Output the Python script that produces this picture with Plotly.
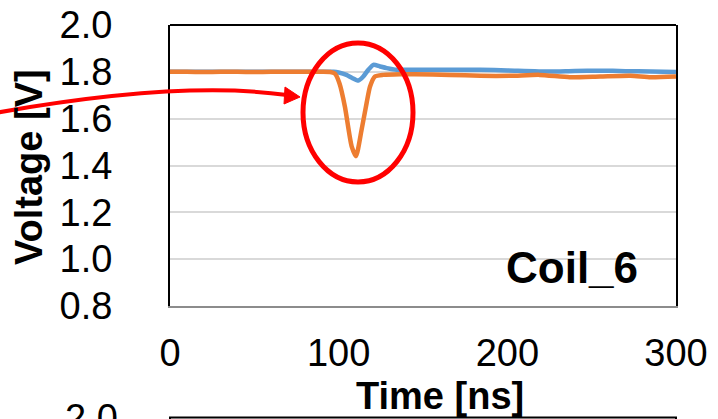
import plotly.graph_objects as go

# ---- data ----
time_blue = [0, 10, 20, 30, 40, 50, 60, 70, 80, 90, 97, 100, 104.6, 108, 111.7, 114.6, 117.5, 120.6,
             124.5, 128.5, 134.4, 148, 166, 184, 200, 225, 240, 255, 270, 285, 300]
volt_blue = [1.800, 1.800, 1.800, 1.800, 1.800, 1.800, 1.800, 1.800, 1.800, 1.800, 1.800, 1.797, 1.787, 1.774,
             1.763, 1.780, 1.808, 1.830, 1.823, 1.816, 1.809, 1.809, 1.809, 1.809, 1.806, 1.801, 1.804, 1.805,
             1.803, 1.801, 1.799]

time_orange = [0, 10, 20, 30, 40, 50, 60, 70, 80, 90, 95, 97.8, 100.5, 103.7, 107.7, 110.3, 113.6, 116.6,
               118.6, 121.5, 126.4, 136.4, 145, 166, 184, 202, 219, 237, 255, 273, 285, 300]
volt_orange = [1.800, 1.800, 1.799, 1.800, 1.800, 1.799, 1.800, 1.800, 1.800, 1.800, 1.799, 1.792, 1.750,
               1.651, 1.482, 1.440, 1.553, 1.668, 1.737, 1.780, 1.787, 1.790, 1.790, 1.787, 1.783, 1.783,
               1.787, 1.777, 1.780, 1.783, 1.777, 1.780]

x_ticks = [0, 100, 200, 300]
y_ticks = [0.8, 1.0, 1.2, 1.4, 1.6, 1.8, 2.0]
y_tick_text = ["0.8", "1.0", "1.2", "1.4", "1.6", "1.8", "2.0"]

# ---- layout geometry ----
W, H = 718, 419
L, R, T, B = 170, 676, 25, 306
FONT = "Arial, Liberation Sans, sans-serif"


def px(x):
    return (x - L) / (R - L)


def py(y):
    return (B - y) / (B - T)


fig = go.Figure()
fig.add_trace(go.Scatter(x=time_blue, y=volt_blue, mode="lines",
                         line=dict(color="#5B9BD5", width=4.5, shape="spline", smoothing=0.6),
                         showlegend=False))
fig.add_trace(go.Scatter(x=time_orange, y=volt_orange, mode="lines",
                         line=dict(color="#ED7D31", width=4.5, shape="spline", smoothing=0.6),
                         showlegend=False))

fig.update_layout(
    width=W, height=H,
    margin=dict(l=L, r=W - R, t=T, b=H - B, pad=0, autoexpand=False),
    paper_bgcolor="white", plot_bgcolor="white",
    font=dict(family=FONT, color="black"),
    xaxis=dict(range=[0, 300], tickvals=x_ticks, showgrid=False, zeroline=False, automargin=False,
               showline=True, linecolor="#8c8c8c", linewidth=2, ticks="",
               ticklabelstandoff=12, tickfont=dict(size=38, family=FONT)),
    yaxis=dict(range=[0.8, 2.0], tickvals=y_ticks, ticktext=y_tick_text, showgrid=True,
               gridcolor="#d9d9d9", gridwidth=2, zeroline=False, automargin=False,
               showline=True, linecolor="black", linewidth=2, mirror=True, ticks="",
               ticklabelstandoff=48, tickfont=dict(size=38, family=FONT)),
)

shapes = []
# top border of plot
shapes.append(dict(type="line", xref="paper", yref="paper", x0=0, x1=1, y0=1, y1=1,
                   line=dict(color="black", width=2), layer="above"))
# white text box behind label
shapes.append(dict(type="rect", xref="paper", yref="paper", x0=px(474), x1=px(672), y0=py(292), y1=py(243),
                   fillcolor="white", line=dict(width=0), layer="between"))
# red ellipse
shapes.append(dict(type="circle", xref="paper", yref="paper", x0=px(303), x1=px(413), y0=py(182), y1=py(43),
                   line=dict(color="#FF0000", width=5), layer="above"))
# red curved arrow
shapes.append(dict(type="path", xref="paper", yref="paper",
                   path=f"M {px(-5)},{py(113)} Q {px(180)},{py(80)} {px(287)},{py(95)}",
                   line=dict(color="#FF0000", width=4), layer="above"))
shapes.append(dict(type="path", xref="paper", yref="paper",
                   path=f"M {px(300)},{py(97)} L {px(285)},{py(87)} L {px(284)},{py(104)} Z",
                   fillcolor="#FF0000", line=dict(color="#FF0000", width=1), layer="above"))
# next (cut-off) chart frame
shapes.append(dict(type="rect", xref="paper", yref="paper", x0=0, x1=1, y0=py(440), y1=py(417.5),
                   line=dict(color="black", width=2), layer="above"))
fig.update_layout(shapes=shapes)

fig.add_annotation(text="<b>Coil_6</b>", xref="paper", yref="paper", x=px(572), y=py(267),
                   xanchor="center", yanchor="middle", showarrow=False,
                   font=dict(size=44, family=FONT, color="black"))
fig.add_annotation(text="<b>Voltage [V]</b>", xref="paper", yref="paper", x=px(29), y=py(167),
                   xanchor="center", yanchor="middle", textangle=-90, showarrow=False,
                   font=dict(size=38, family=FONT, color="black"))
fig.add_annotation(text="<b>Time [ns]</b>", xref="paper", yref="paper", x=px(440), y=py(396),
                   xanchor="center", yanchor="middle", showarrow=False,
                   font=dict(size=38, family=FONT, color="black"))
fig.add_annotation(text="2.0", xref="paper", yref="paper", x=px(120), y=py(417.5),
                   xanchor="right", yanchor="middle", showarrow=False,
                   font=dict(size=38, family=FONT, color="black"))

fig.write_html("out.html")
